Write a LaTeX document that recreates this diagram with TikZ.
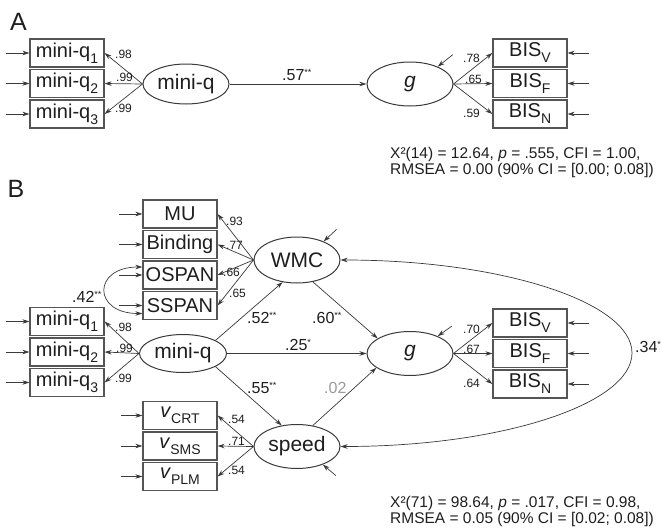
\documentclass[tikz,border=0pt]{standalone}
\usepackage{fontspec}
\setmainfont{Liberation Sans}
\usetikzlibrary{arrows.meta,shapes.geometric}
\newcommand{\myfs}[1]{\fontsize{#1}{#1}\selectfont}
\newcommand{\mysub}[1]{\raisebox{-0.3em}{\myfs{14}#1}}
\newcommand{\stars}[1]{\raisebox{5pt}{\myfs{9}#1}}
\definecolor{linec}{HTML}{3A3A3A}
\definecolor{boxc}{HTML}{555555}
\definecolor{txt}{HTML}{1E1E1E}
\definecolor{grayt}{HTML}{9A9A9A}
\begin{document}
\begin{tikzpicture}[x=1pt,y=-1pt,
  stk/.tip={Stealth[length=7pt,width=4.5pt]},
  obs/.style={draw=boxc, line width=1.2pt, minimum width=74pt, minimum height=28pt, inner sep=0pt, font=\myfs{20}, text=txt},
  lat/.style={draw=linec, line width=1pt, ellipse, minimum width=86pt, minimum height=44pt, inner sep=0pt, font=\myfs{21}, text=txt},
  arr/.style={-stk, line width=0.7pt, draw=linec},
  rarr/.style={stk-, line width=0.7pt, draw=linec},
  darr/.style={stk-stk, line width=0.7pt, draw=linec},
  ld/.style={font=\myfs{12}, inner sep=0pt, anchor=base west, text=txt},
  cf/.style={font=\myfs{16}, inner sep=0pt, anchor=base west, text=txt},
  fitx/.style={font=\myfs{15.5}, inner sep=0pt, anchor=base west, text=txt},
  plab/.style={font=\myfs{25}, inner sep=0pt, text=txt},
]
\useasboundingbox[fill=white] (0,0) rectangle (662,530);

% ---------------- Panel A ----------------
\node[plab] (lA) at (18.5,21.5) {A};
\node[obs] (aq1) at (67,53) {mini-q\mysub{1}};
\node[obs] (aq2) at (67,83.5) {mini-q\mysub{2}};
\node[obs] (aq3) at (67,114) {mini-q\mysub{3}};
\node[lat, minimum height=40pt] (amq) at (186,84) {mini-q};
\node[lat, font=\myfs{21}\itshape] (ag) at (410,84) {g};
\node[obs] (abv) at (530,53) {BIS\mysub{V}};
\node[obs] (abf) at (530,83.5) {BIS\mysub{F}};
\node[obs] (abn) at (530,114) {BIS\mysub{N}};

\foreach \b in {aq1,aq2,aq3} {
  \draw[arr] (amq.west) -- (\b.east);
  \draw[rarr] (\b.west) -- ++(-23,0);
}
\foreach \b in {abv,abf,abn} {
  \draw[arr] (ag.east) -- (\b.west);
  \draw[rarr] (\b.east) -- ++(21,0);
}
\draw[arr] (amq) -- (ag);
\draw[rarr] (ag.32) -- ++(15,-12);

\node[ld] at (115,58) {.98};
\node[ld] at (116,81) {.99};
\node[ld] at (115,112) {.99};
\node[ld] at (463,62) {.78};
\node[ld] at (465,83) {.65};
\node[ld] at (463,117) {.59};
\node[cf] at (282,80) {.57\stars{**}};

\node[fitx] at (390,158.5) {X²(14) = 12.64, \textit{p} = .555, CFI = 1.00,};
\node[fitx] at (390,174.5) {RMSEA = 0.00 (90\% CI = [0.00; 0.08])};

% ---------------- Panel B ----------------
\node[plab] (lB) at (16,188.5) {B};
\node[obs] (mu) at (180,214) {MU};
\node[obs] (bind) at (180,244.5) {Binding};
\node[obs] (ospan) at (180,275) {OSPAN};
\node[obs] (sspan) at (180,305.5) {SSPAN};
\node[obs] (bq1) at (67,321.5) {mini-q\mysub{1}};
\node[obs] (bq2) at (67,352) {mini-q\mysub{2}};
\node[obs] (bq3) at (67,382.5) {mini-q\mysub{3}};
\node[obs] (vc) at (180,415.5) {\textit{v}\mysub{CRT}};
\node[obs] (vs) at (180,446) {\textit{v}\mysub{SMS}};
\node[obs] (vp) at (180,476.5) {\textit{v}\mysub{PLM}};
\node[lat, minimum width=87pt, minimum height=38pt] (bmq) at (183,353.5) {mini-q};
\node[lat, minimum height=46pt] (wmc) at (297,260) {WMC};
\node[lat, font=\myfs{21}\itshape] (bg) at (410,353.5) {g};
\node[lat] (speed) at (297,446.5) {speed};
\node[obs] (bbv) at (530,323) {BIS\mysub{V}};
\node[obs] (bbf) at (530,353.5) {BIS\mysub{F}};
\node[obs] (bbn) at (530,384) {BIS\mysub{N}};
\coordinate (r34) at (632,353);

\foreach \b in {mu,bind,ospan,sspan} {
  \draw[arr] (wmc.west) -- (\b.east);
  \draw[rarr] (\b.west) -- ++(-23,0);
}
\foreach \b in {bq1,bq2,bq3} {
  \draw[arr] (bmq.west) -- (\b.east);
  \draw[rarr] (\b.west) -- ++(-23,0);
}
\foreach \b in {vc,vs,vp} {
  \draw[arr] (speed.west) -- (\b.east);
  \draw[rarr] (\b.west) -- ++(-21,0);
}
\foreach \b in {bbv,bbf,bbn} {
  \draw[arr] (bg.east) -- (\b.west);
  \draw[rarr] (\b.east) -- ++(21,0);
}
% structural paths
\draw[arr] (bmq.22) -- (wmc.237);
\draw[arr] (wmc.-54) -- (bg.155);
\draw[arr] (bmq.east) -- (bg.west);
\draw[arr] (bmq.-22) -- (speed.126);
\draw[arr] (speed.53) -- (bg.203);
% disturbances
\draw[rarr] (wmc.35) -- ++(13,-12);
\draw[rarr] (bg.32) -- ++(14,-10);
\draw[rarr] (speed.-35) -- ++(13,11);
% covariances
\draw[darr] ([yshift=8pt]ospan.west) .. controls +(-50,0) and +(-50,0) .. ([yshift=-8pt]sspan.west);
\draw[darr] (wmc.east) .. controls +(161,0) and +(0,-51) .. (r34)
  .. controls +(0,51) and +(161,0) .. (speed.east);

% loading labels
\node[ld] at (226,225) {.93};
\node[ld] at (226,249) {.77};
\node[ld] at (223,276) {.66};
\node[ld] at (229,297) {.65};
\node[ld] at (115,331) {.98};
\node[ld] at (116,352) {.99};
\node[ld] at (115,382) {.99};
\node[ld] at (463,333) {.70};
\node[ld] at (463,353) {.67};
\node[ld] at (463,387) {.64};
\node[ld] at (228,423) {.54};
\node[ld] at (228,445) {.71};
\node[ld] at (228,474) {.54};
% path labels
\node[cf] at (72,302) {.42\stars{**}};
\node[cf] at (247,323) {.52\stars{**}};
\node[cf] at (312,323) {.60\stars{**}};
\node[cf] at (285,350) {.25\stars{*}};
\node[cf] at (247,393) {.55\stars{**}};
\node[cf, text=grayt] at (324,393) {.02};
\node[cf] at (635,352) {.34\stars{*}};

\node[fitx] at (390,507.5) {X²(71) = 98.64, \textit{p} = .017, CFI = 0.98,};
\node[fitx] at (390,523.5) {RMSEA = 0.05 (90\% CI = [0.02; 0.08])};
\end{tikzpicture}
\end{document}
